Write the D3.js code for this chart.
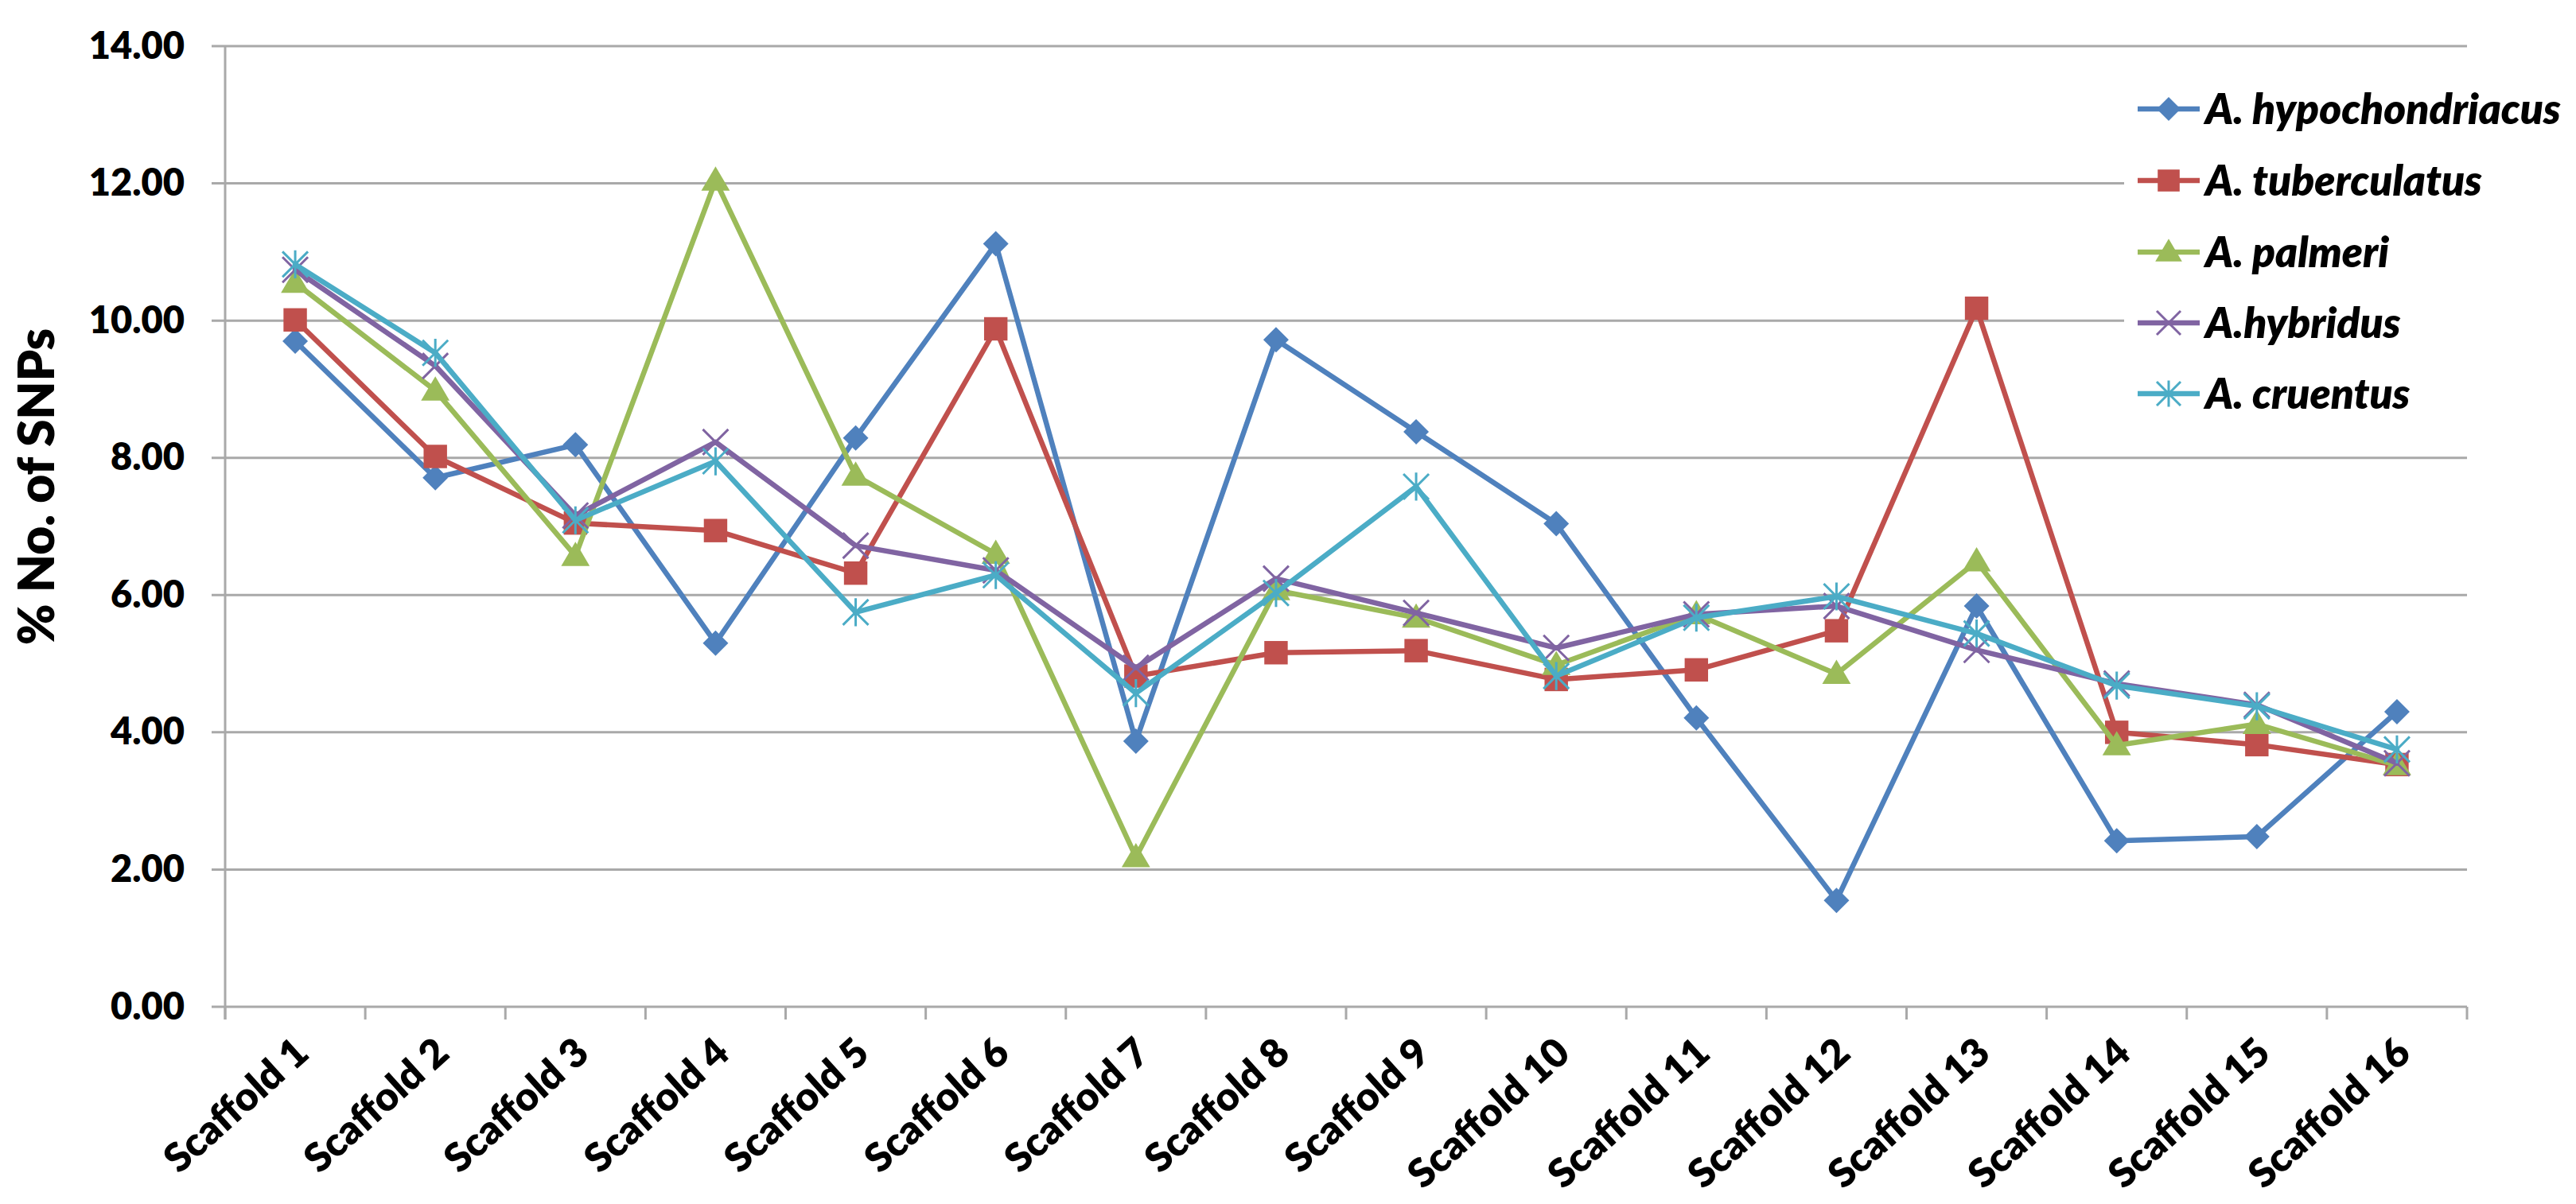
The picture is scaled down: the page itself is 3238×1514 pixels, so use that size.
<!DOCTYPE html>
<html>
<head>
<meta charset="utf-8">
<script src="https://cdn.jsdelivr.net/npm/d3@7"></script>
<style>
  html, body { margin: 0; padding: 0; background: #fff; }
  svg text { font-family: Lato, "Open Sans", sans-serif; font-weight: 800; fill: #000; }
</style>
</head>
<body>
<svg id="chart" width="3238" height="1514"></svg>
<script>
const categories = ["Scaffold 1","Scaffold 2","Scaffold 3","Scaffold 4","Scaffold 5","Scaffold 6","Scaffold 7","Scaffold 8",
  "Scaffold 9","Scaffold 10","Scaffold 11","Scaffold 12","Scaffold 13","Scaffold 14","Scaffold 15","Scaffold 16"];
const seriesNames = ["A. hypochondriacus","A. tuberculatus","A. palmeri","A.hybridus","A. cruentus"];
const hypochondriacus = [9.70, 7.71, 8.19, 5.30, 8.29, 11.12, 3.87, 9.72, 8.38, 7.04, 4.21, 1.55, 5.84, 2.42, 2.48, 4.30];
const tuberculatus    = [10.01, 8.02, 7.05, 6.94, 6.32, 9.88, 4.82, 5.16, 5.19, 4.77, 4.91, 5.48, 10.18, 4.00, 3.82, 3.53];
const palmeri         = [10.55, 8.98, 6.57, 12.04, 7.74, 6.60, 2.18, 6.07, 5.67, 4.98, 5.72, 4.85, 6.49, 3.81, 4.12, 3.52];
const hybridus        = [10.74, 9.34, 7.16, 8.23, 6.72, 6.36, 4.94, 6.24, 5.74, 5.23, 5.72, 5.84, 5.20, 4.71, 4.40, 3.55];
const cruentus        = [10.82, 9.53, 7.09, 7.95, 5.75, 6.29, 4.57, 6.03, 7.58, 4.82, 5.67, 5.98, 5.44, 4.68, 4.38, 3.75];
const yTicks = [0, 2, 4, 6, 8, 10, 12, 14];
const yTitle = "% No. of SNPs";
const colors = ["#4F81BD", "#C0504D", "#9BBB59", "#8064A2", "#4BACC6"];
const markerTypes = ["diamond", "square", "triangle", "x", "asterisk"];

const seriesData = [hypochondriacus, tuberculatus, palmeri, hybridus, cruentus];

const svg = d3.select("#chart");
const pLeft = 283, pRight = 3101, pTop = 58, pBottom = 1266;

const x = d3.scaleBand().domain(categories).range([pLeft, pRight]).paddingInner(0).paddingOuter(0);
const y = d3.scaleLinear().domain([0, 14]).range([pBottom, pTop]);
const cx = c => x(c) + x.bandwidth() / 2;

// gridlines
const grid = svg.append("g");
grid.selectAll("line").data(yTicks).join("line")
  .attr("x1", pLeft - 17).attr("x2", pRight)
  .attr("y1", d => y(d)).attr("y2", d => y(d))
  .attr("stroke", "#a9a9a9").attr("stroke-width", 3);

// y axis line
svg.append("line").attr("x1", pLeft).attr("x2", pLeft).attr("y1", pTop).attr("y2", pBottom + 16)
  .attr("stroke", "#a9a9a9").attr("stroke-width", 3);

// y axis labels
const yAxis = d3.axisLeft(y).tickValues(yTicks).tickFormat(d3.format(".2f")).tickSize(0).tickPadding(0);
const yg = svg.append("g").attr("transform", `translate(${pLeft - 51},0)`).call(yAxis);
yg.select(".domain").remove();
yg.selectAll("text").attr("font-size", 47).attr("fill", "#000")
  .style("font-family", "Lato, sans-serif").style("font-weight", 800);

// x axis: boundary ticks
const bounds = d3.range(categories.length + 1).map(i => pLeft + i * x.step());
svg.append("g").selectAll("line").data(bounds).join("line")
  .attr("x1", d => d).attr("x2", d => d).attr("y1", pBottom).attr("y2", pBottom + 16)
  .attr("stroke", "#a9a9a9").attr("stroke-width", 3);

// x labels
const xAxis = d3.axisBottom(x).tickSize(0).tickPadding(0);
const xg = svg.append("g").attr("transform", `translate(0,${pBottom})`).call(xAxis);
xg.select(".domain").remove();
xg.selectAll("text")
  .attr("font-size", 50).attr("fill", "#000")
  .style("font-family", "Lato, sans-serif").style("font-weight", 800)
  .attr("text-anchor", "end")
  .attr("dy", "0")
  .attr("y", 0)
  .attr("transform", "translate(20,62) rotate(-42)");

// y title
svg.append("text").attr("transform", `translate(68,612) rotate(-90)`)
  .attr("text-anchor", "middle").attr("font-size", 62).text(yTitle);

// markers
function markerPath(type, s) {
  const h = s / 2;
  switch (type) {
    case "diamond": return `M0,${-h}L${h},0L0,${h}L${-h},0Z`;
    case "square": { const q = s * 0.46; return `M${-q},${-q}H${q}V${q}H${-q}Z`; }
    case "triangle": { const w = s * 0.56; return `M0,${-w}L${w},${w * 0.7}L${-w},${w * 0.7}Z`; }
    case "x": { const q = s * 0.5; return `M${-q},${-q}L${q},${q}M${-q},${q}L${q},${-q}`; }
    case "asterisk": { const q = s * 0.5; return `M${-q},${-q}L${q},${q}M${-q},${q}L${q},${-q}M0,${-q * 1.1}V${q * 1.1}`; }
  }
}
function drawMarker(g, type, color, size) {
  const filled = type === "diamond" || type === "square" || type === "triangle";
  g.append("path").attr("d", markerPath(type, size))
    .attr("fill", filled ? color : "none")
    .attr("stroke", color)
    .attr("stroke-width", filled ? 0 : 3);
}

const line = d3.line().x((d, i) => cx(categories[i])).y(d => y(d));
seriesData.forEach((vals, si) => {
  const g = svg.append("g");
  g.append("path").datum(vals).attr("d", line)
    .attr("fill", "none").attr("stroke", colors[si]).attr("stroke-width", 6.5)
    .attr("stroke-linejoin", "round").attr("stroke-linecap", "round");
  vals.forEach((v, i) => {
    const mg = g.append("g").attr("transform", `translate(${cx(categories[i])},${y(v)})`);
    drawMarker(mg, markerTypes[si], colors[si], 32);
  });
});

// legend
const lg = svg.append("g");
lg.append("rect").attr("x", 2670).attr("y", 90).attr("width", 568).attr("height", 450).attr("fill", "#fff");
const legY = [137, 227, 317, 406, 495];
seriesNames.forEach((n, i) => {
  const row = lg.append("g").attr("transform", `translate(0,${legY[i]})`);
  row.append("line").attr("x1", 2687).attr("x2", 2765).attr("y1", 0).attr("y2", 0)
    .attr("stroke", colors[i]).attr("stroke-width", 6.5);
  const mg = row.append("g").attr("transform", "translate(2726,0)");
  drawMarker(mg, markerTypes[i], colors[i], 30);
  row.append("text").attr("x", 2772).attr("y", 0).attr("dy", "0.35em")
    .attr("font-size", 53).attr("font-style", "italic").text(n);
});
</script>
</body>
</html>
